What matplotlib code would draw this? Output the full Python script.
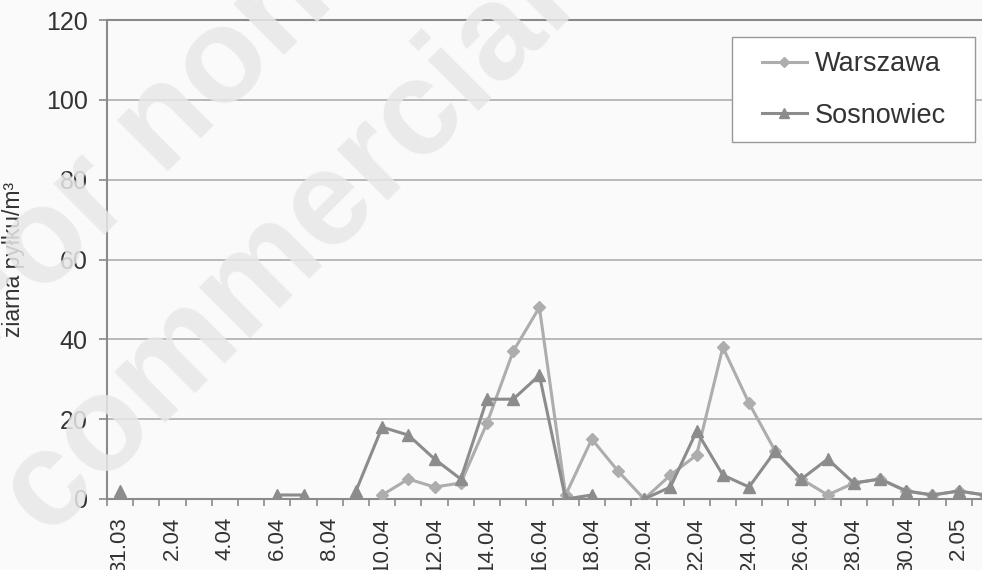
import numpy as np
import matplotlib
matplotlib.use("Agg")
import matplotlib.pyplot as plt
from matplotlib.patches import Rectangle

plt.rcParams["font.family"] = ["Liberation Sans", "DejaVu Sans"]

# ===============================
# Daily pollen counts, 31.03 - 3.05
# ===============================
days = ["31.03", "1.04", "2.04", "3.04", "4.04", "5.04", "6.04", "7.04",
        "8.04", "9.04", "10.04", "11.04", "12.04", "13.04", "14.04", "15.04",
        "16.04", "17.04", "18.04", "19.04", "20.04", "21.04", "22.04", "23.04",
        "24.04", "25.04", "26.04", "27.04", "28.04", "29.04", "30.04", "1.05",
        "2.05", "3.05"]

nan = np.nan
warszawa = [nan, nan, nan, nan, nan, nan, nan, nan, nan, nan,
            1, 5, 3, 4, 19, 37, 48, 1, 15, 7,
            0, 6, 11, 38, 24, 12, 5, 1, 4, 5,
            2, 1, 2, 1]
sosnowiec = [2, nan, nan, nan, nan, nan, 1, 1, nan, 2,
             18, 16, 10, 5, 25, 25, 31, 0, 1, nan,
             0, 3, 17, 6, 3, 12, 5, 10, 4, 5,
             2, 1, 2, 1]

y_ticks = [0, 20, 40, 60, 80, 100, 120]

W, H = 982, 570
bg = "#fafafa"
text_col = "#333333"
axis_col = "#8a8a8a"

fig = plt.figure(figsize=(W / 100, H / 100), dpi=100, facecolor=bg)
ax = fig.add_axes([107 / W, 71 / H, 891 / W, 479 / H], facecolor=bg)

x = np.arange(len(days))
l_w, = ax.plot(x, warszawa, color="#adadad", lw=2.2, marker="D", ms=6,
               label="Warszawa", zorder=3)
l_s, = ax.plot(x, sosnowiec, color="#8c8c8c", lw=2.2, marker="^", ms=9,
               label="Sosnowiec", zorder=4)

# category axis: ticks between days, labels on every second day
ax.set_xlim(-0.5, len(days) - 0.5)
ax.set_xticks(np.arange(-0.5, len(days), 1))
ax.set_xticklabels([])
ax.set_xticks(x[::2], minor=True)
ax.set_xticklabels(days[::2], minor=True, rotation=90, fontsize=16,
                   color=text_col)
ax.tick_params(axis="x", which="major", length=5, width=1.2, color=axis_col)
ax.tick_params(axis="x", which="minor", length=0, pad=13)

ax.set_ylim(0, 120)
ax.set_yticks(y_ticks)
ax.tick_params(axis="y", length=6, width=1.2, color=axis_col, pad=8,
               labelsize=18, labelcolor=text_col)
ax.yaxis.grid(True, color="#b4b4b4", lw=1.3)
ax.set_axisbelow(True)

ax.spines["right"].set_visible(False)
for side in ["left", "bottom", "top"]:
    ax.spines[side].set_color(axis_col)
    ax.spines[side].set_linewidth(1.5)

ax.set_ylabel("ziarna pyłku/m³", fontsize=16.5, color=text_col)
ax.yaxis.set_label_coords((25 - 107) / 891, 0.5)

# legend box with wide side padding
box = Rectangle((732 / W, 1 - 142 / H), 243 / W, 105 / H,
                transform=fig.transFigure, facecolor="white",
                edgecolor="#999999", lw=1.0, zorder=1)
fig.add_artist(box)
leg = fig.legend([l_w, l_s], ["Warszawa", "Sosnowiec"], loc="center",
                 bbox_to_anchor=(854 / W, 1 - 90 / H),
                 bbox_transform=fig.transFigure, frameon=False,
                 fontsize=19.5, handlelength=1.67, labelspacing=0.95,
                 handletextpad=0.3, borderpad=0, markerscale=0.8)
leg.set_zorder(2)
for t in leg.get_texts():
    t.set_color(text_col)

# publisher stamp across the chart
for txt, px, py in [("For non-", -18, 357), ("commercial use", 48, 540)]:
    fig.text(px / W, 1 - py / H, txt, rotation=45, rotation_mode="anchor",
             ha="left", va="baseline", fontsize=97, fontweight="bold",
             color="#e8e8e8", alpha=0.85, zorder=10)

fig.savefig("out.png", dpi=100, facecolor=bg)
